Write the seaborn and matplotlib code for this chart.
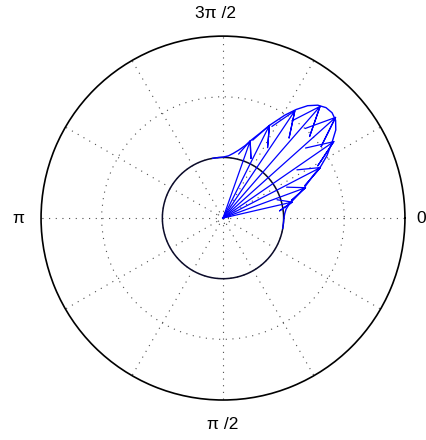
import numpy as np
import matplotlib
matplotlib.use("Agg")
import matplotlib.pyplot as plt
import seaborn as sns

# Directional density lobe (angle in degrees, clockwise from east; radius)
lobe_theta_deg = [10, 5, 0, -4, -8, -11, -14, -18, -21, -25, -28, -31, -35, -38,
                  -41, -44, -47, -50, -53, -56, -59, -63, -66, -70, -73, -77,
                  -81, -85, -90, -95, -100]
lobe_r = [1.00, 1.00, 1.005, 1.02, 1.05, 1.10, 1.18, 1.33, 1.45, 1.63, 1.83,
          2.00, 2.20, 2.36, 2.46, 2.50, 2.49, 2.43, 2.32, 2.16, 1.98, 1.73,
          1.55, 1.37, 1.25, 1.15, 1.08, 1.03, 1.005, 1.00, 1.00]

# Compass vectors (angle in degrees, clockwise from east; length)
arrow_theta_deg = [-13.0, -20.2, -27.4, -34.6, -41.8, -49.0, -56.2, -63.4, -70.6]
arrow_r = [1.17, 1.45, 1.81, 2.22, 2.49, 2.44, 2.13, 1.71, 1.35]

unit_r = 1.0
r_max = 3.0
ring_r = [0.09, 1.0, 2.0]
tick_deg = [0, 90, 180, 268]
tick_labels = ["0", "π /2", "π", "3π /2"]
label_r = [3.27, 3.40, 3.38, 3.37]

sns.set_theme(style="white")
plt.rcParams["font.family"] = ["Liberation Sans", "DejaVu Sans"]

fig = plt.figure(figsize=(4.27, 4.40), dpi=100)
fig.patch.set_facecolor("white")
ax = fig.add_axes([0.096, 0.0909, 0.8525, 0.827], projection="polar")
ax.set_facecolor("white")
ax.set_theta_zero_location("E")
ax.set_theta_direction(-1)
ax.set_rlim(0, r_max)

# dotted polar grid
ax.set_thetagrids(np.arange(0, 360, 30), labels=[])
ax.set_rgrids(ring_r, labels=[])
ax.grid(True, color="0.3", linestyle=(0, (1, 5)), linewidth=0.8)
ax.spines["polar"].set_color("black")
ax.spines["polar"].set_linewidth(1.2)
ax.tick_params(length=0)

# unit circle
circ_t = np.linspace(0, 2 * np.pi, 721)
ax.plot(circ_t, np.full_like(circ_t, unit_r), color="#0b0b2a", lw=1.1, zorder=3)

# lobe curve
sns.lineplot(x=np.radians(lobe_theta_deg), y=lobe_r, sort=False, estimator=None,
             ax=ax, color="#0000ff", lw=1.0, zorder=4)

# compass arrows: shaft plus two barbs
for th, r in zip(np.radians(arrow_theta_deg), arrow_r):
    z = r * np.exp(1j * th)
    pts = np.array([0, z, 0.8 * z + 0.08j * z, z, 0.8 * z - 0.08j * z])
    ax.plot(np.angle(pts), np.abs(pts), color="#0000ff", lw=0.9, zorder=4)

for d, lab, lr in zip(tick_deg, tick_labels, label_r):
    ax.text(np.radians(d), lr, lab, ha="center", va="center", fontsize=12.5,
            color="black", clip_on=False)

fig.savefig("out.png", dpi=100, facecolor="white")
